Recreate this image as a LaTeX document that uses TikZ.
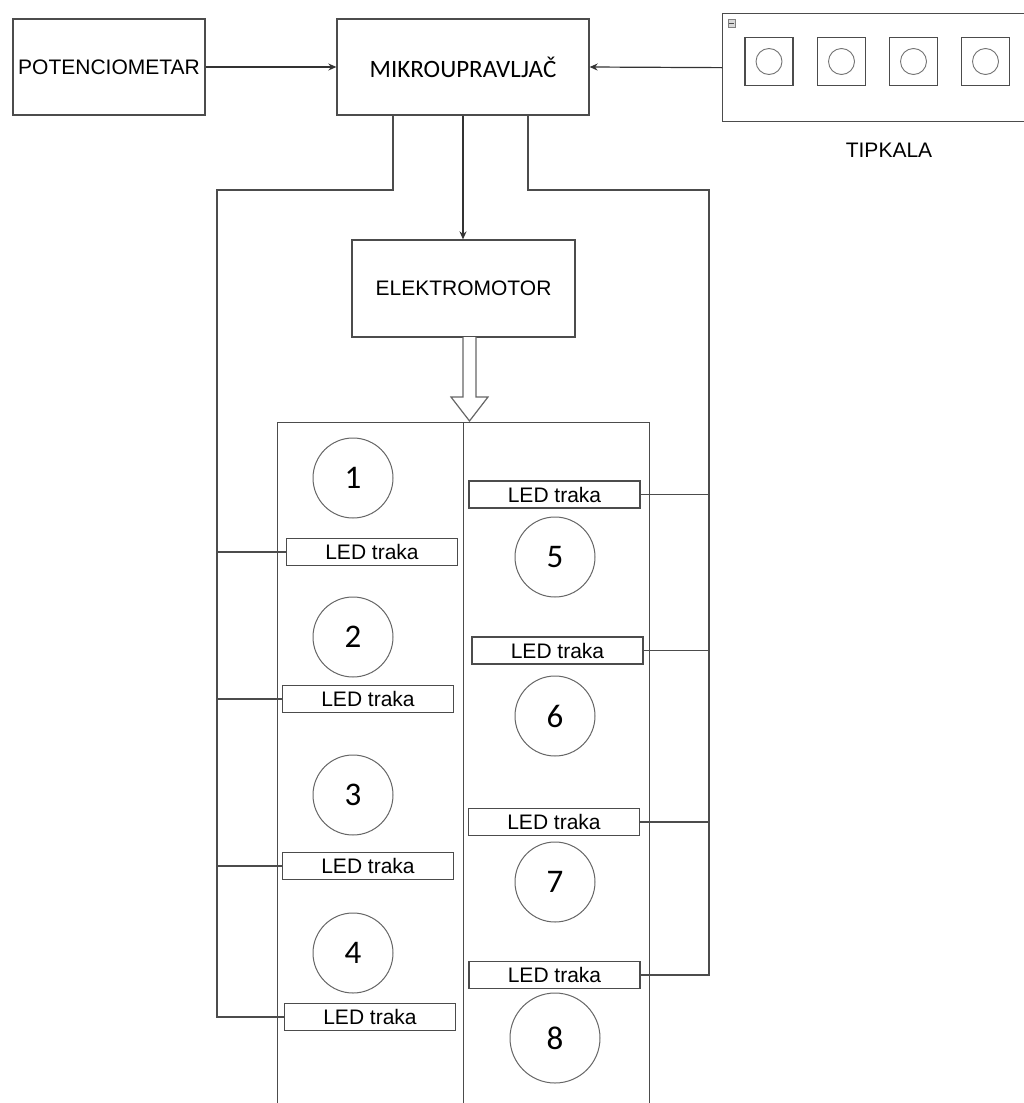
\documentclass[tikz,border=0pt]{standalone}
\usepackage{fontspec}
\setmainfont{Liberation Sans}
\newfontfamily\calib{Carlito}
\usetikzlibrary{arrows.meta}

\begin{document}
\begin{tikzpicture}[
    x=1pt, y=-1pt,
    >={Stealth[length=8pt, width=7pt]},
    blk/.style={rectangle, draw=black!70, line width=1.3pt, fill=white, minimum width=#1, minimum height=96pt, inner sep=0pt, font=\fontsize{21}{24}\selectfont},
    blk/.default={192pt},
    strip/.style={rectangle, draw=black!70, line width=1.2pt, fill=white, minimum width=171pt, minimum height=27pt, inner sep=0pt, font=\fontsize{21}{24}\selectfont},
    lamp/.style={circle, draw=black!60, line width=1pt, minimum size=80pt, inner sep=0pt, font=\calib\fontsize{33}{36}\selectfont},
    key/.style={rectangle, draw=black!70, line width=1.2pt, minimum size=48pt, inner sep=0pt},
    ring/.style={circle, draw=black!55, line width=0.9pt, minimum size=26pt, inner sep=0pt},
    wire/.style={line width=1.2pt, black!70},
    arr/.style={->, line width=1.2pt, black!80}
]
\useasboundingbox[fill=white] (0,0) rectangle (1023,1103);

\node[blk=192pt] (pot) at (109,67) {POTENCIOMETAR};
\node[blk=252pt, font=\calib\fontsize{25}{30}\selectfont] (mcu) at (463,67) {MIKROUPRAVLJAČ};
\node[blk=223pt, minimum height=97pt] (motor) at (463.5,288.5) {ELEKTROMOTOR};

\node[rectangle, draw=black!70, line width=1.3pt, minimum width=320pt, minimum height=108pt, inner sep=0pt, anchor=north west] (panel) at (722,13) {};
\node[draw=black!50, fill=black!15, minimum width=7pt, minimum height=8pt, inner sep=0pt] (fold) at (731.5,23) {};
\draw[black!70, line width=0.6pt] ([xshift=1.5pt]fold.west) -- ([xshift=-1.5pt]fold.east);
\foreach \k/\x in {1/769, 2/841.5, 3/913.5, 4/985.5} {
  \node[key] (key\k) at (\x,61.5) {};
  \node[ring] (ring\k) at (key\k) {};
}
\node[font=\fontsize{21}{24}\selectfont] (panellbl) at (889,150) {TIPKALA};

\draw[arr] (pot) -- (mcu);
\draw[arr] (panel.west) -- (mcu.east);
\draw[arr] (mcu.south) -- (mcu.south |- motor.north);

\node[rectangle, draw=black!70, line width=1.3pt, minimum width=372pt, minimum height=720pt, inner sep=0pt, anchor=north west] (drum) at (277,422) {};
\draw[wire] (drum.north) -- (drum.south);

\coordinate (push) at (469.5,337);
\draw[line width=1.2pt, draw=black!60, fill=white] (push) ++(-6.5,0) -- ++(0,60) -- ++(-12,0) -- ++(18.5,24) -- ++(18.5,-24) -- ++(-12,0) -- ++(0,-60);

\foreach \n/\x/\y in {1/372/552, 2/368/699, 3/368/866, 4/370/1017, 5/554.5/494.5, 6/557.5/650.5, 7/554/822, 8/554.5/975}
  \node[strip] (led\n) at (\x,\y) {LED traka};
\foreach \n/\y in {1/478, 2/637, 3/795, 4/953}
  \node[lamp] (lamp\n) at (353,\y) {\n};
\foreach \n/\y in {5/557, 6/716, 7/882}
  \node[lamp] (lamp\n) at (555,\y) {\n};
\node[lamp, minimum size=90pt] (lamp8) at (555,1038) {8};

\coordinate (tapL) at (393,115);
\coordinate (tapR) at (528,115);
\coordinate (busL) at (217,190);
\coordinate (busR) at (709,190);
\draw[wire] (tapL) |- (busL) |- (led4.west);
\foreach \n in {1,2,3}
  \draw[wire] (led\n.west) -- (led\n.west -| busL);
\draw[wire] (tapR) |- (busR) |- (led8.east);
\foreach \n in {5,6,7}
  \draw[wire] (led\n.east) -- (led\n.east -| busR);

\end{tikzpicture}
\end{document}
